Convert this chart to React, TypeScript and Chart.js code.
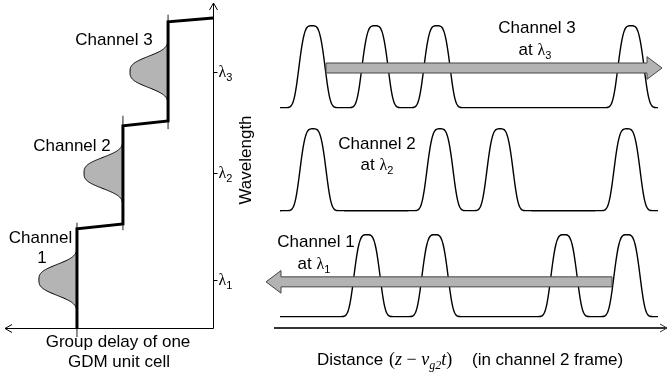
import React, { useEffect, useRef } from "react";
import { Chart, registerables } from "chart.js";

Chart.register(...registerables);

const SANS = '"Liberation Sans", Arial, sans-serif';
const SERIF = '"Liberation Serif", "Times New Roman", serif';

// ---------------- Left panel: group delay of one GDM unit cell vs wavelength ----------------
const stairDelay = [6.54, 6.54, 4.33, 4.33, 2.16, 2.16, 0.0];
const stairWavelength = [0.0, 3.05, 3.2, 6.22, 6.37, 9.42, 9.54];
const channelNumbers = ["1", "2", "3"];
const channelWavelength = [1.48, 4.77, 7.88];
const channelBaseDelay = [6.54, 4.33, 2.16];
const channelPeakDelay = [1.83, 1.87, 1.83];
const spectrumWidth = 0.55;
const spectrumOrder = 3;

// ---------------- Right panel: pulse trains vs distance ----------------
const rowBaseline = [0.35, 3.61, 6.78];
const rowPulseHeight = [2.52, 2.52, 2.52];
const row1Pulses = [23.25, 40.25, 72.5, 88.25];
const row2Pulses = [9.75, 41.5, 56.5, 88.25];
const row3Pulses = [9.5, 25.25, 40.75, 89.25];
const traceStart = 1.5;
const traceEnd = 96;
const pulseWidth = 3.6;
const pulseOrder = 3.6;
// drift arrows: channel 1 (backwards), channel 3 (forwards)
const arrowLevel = [1.42, 8.0];
const arrowTail = [84.5, 13.0];
const arrowTip = [-2, 97];

type Run = { text: string; font: string; dy?: number };

function runsWidth(ctx: CanvasRenderingContext2D, runs: Run[]) {
  let w = 0;
  for (const r of runs) {
    ctx.font = r.font;
    w += ctx.measureText(r.text).width;
  }
  return w;
}

function drawRuns(ctx: CanvasRenderingContext2D, runs: Run[], x: number, y: number, align: "left" | "center") {
  let cx = align === "center" ? x - runsWidth(ctx, runs) / 2 : x;
  ctx.textAlign = "left";
  ctx.textBaseline = "alphabetic";
  for (const r of runs) {
    ctx.font = r.font;
    ctx.fillText(r.text, cx, y + (r.dy || 0));
    cx += ctx.measureText(r.text).width;
  }
}

const F17 = `17px ${SANS}`;
const lambdaRuns = (n: string): Run[] => [
  { text: "λ", font: `16px ${SERIF}` },
  { text: n, font: `11px ${SANS}`, dy: 4 },
];

function spectrumPoints(i: number) {
  const c = channelWavelength[i];
  const pts: { x: number; y: number }[] = [];
  const span = spectrumWidth * 3.2;
  for (let k = -64; k <= 64; k++) {
    const w = c + (k / 64) * span;
    const u = Math.abs((w - c) / spectrumWidth);
    pts.push({ x: channelBaseDelay[i] + channelPeakDelay[i] * Math.exp(-Math.pow(u, spectrumOrder)), y: w });
  }
  return pts;
}

function pulseTrace(centers: number[], base: number, height: number) {
  const pts: { x: number; y: number }[] = [];
  for (let x = traceStart; x <= traceEnd + 1e-9; x += 0.25) {
    let s = 0;
    for (const c of centers) s += Math.exp(-Math.pow(Math.abs((x - c) / pulseWidth), pulseOrder));
    pts.push({ x, y: base + height * s });
  }
  return pts;
}

function drawGrayArrow(ctx: CanvasRenderingContext2D, xTail: number, xTip: number, y: number, half: number, headHalf: number, headLen: number) {
  const dir = Math.sign(xTip - xTail);
  const xb = xTip - dir * headLen;
  ctx.beginPath();
  ctx.moveTo(xTail, y - half);
  ctx.lineTo(xb, y - half);
  ctx.lineTo(xb, y - headHalf);
  ctx.lineTo(xTip, y);
  ctx.lineTo(xb, y + headHalf);
  ctx.lineTo(xb, y + half);
  ctx.lineTo(xTail, y + half);
  ctx.closePath();
  ctx.fillStyle = "#b3b3b3";
  ctx.fill();
  ctx.lineWidth = 1;
  ctx.strokeStyle = "#444";
  ctx.stroke();
}

const leftDecor = {
  id: "leftDecor",
  afterDraw(chart: any) {
    const ctx: CanvasRenderingContext2D = chart.ctx;
    const xs = chart.scales.x;
    const ys = chart.scales.y;
    const x0 = Math.round(xs.getPixelForValue(0)) + 0.5;
    const y0 = Math.round(ys.getPixelForValue(0)) + 0.5;
    const xEnd = xs.getPixelForValue(10);
    const yTop = ys.getPixelForValue(10);
    ctx.save();
    ctx.strokeStyle = "#000";
    ctx.lineWidth = 1;
    ctx.beginPath();
    ctx.moveTo(x0, y0);
    ctx.lineTo(x0, yTop);
    ctx.moveTo(x0, y0);
    ctx.lineTo(xEnd, y0);
    ctx.moveTo(x0 - 4, yTop + 7);
    ctx.lineTo(x0, yTop);
    ctx.lineTo(x0 + 4, yTop + 7);
    ctx.moveTo(xEnd + 7, y0 - 4);
    ctx.lineTo(xEnd, y0);
    ctx.lineTo(xEnd + 7, y0 + 4);
    for (const w of channelWavelength) {
      const py = Math.round(ys.getPixelForValue(w)) + 0.5;
      ctx.moveTo(x0, py);
      ctx.lineTo(x0 + 4, py);
    }
    ctx.stroke();

    ctx.fillStyle = "#000";
    channelWavelength.forEach((w, i) => {
      const py = ys.getPixelForValue(w);
      drawRuns(ctx, lambdaRuns(channelNumbers[i]), x0 + 5, py + 5, "left");
    });

    drawRuns(ctx, [{ text: "Channel 3", font: F17 }], 114, 45, "center");
    drawRuns(ctx, [{ text: "Channel 2", font: F17 }], 72, 151, "center");
    drawRuns(ctx, [{ text: "Channel", font: F17 }], 40.5, 243, "center");
    drawRuns(ctx, [{ text: "1", font: F17 }], 42, 263, "center");

    drawRuns(ctx, [{ text: "Group delay of one", font: F17 }], 118, 347, "center");
    drawRuns(ctx, [{ text: "GDM unit cell", font: F17 }], 119, 367, "center");

    ctx.translate(251, 160);
    ctx.rotate(-Math.PI / 2);
    drawRuns(ctx, [{ text: "Wavelength", font: F17 }], 0, 0, "center");
    ctx.restore();
  },
};

const rightDecor = {
  id: "rightDecor",
  afterDatasetsDraw(chart: any) {
    const ctx: CanvasRenderingContext2D = chart.ctx;
    const xs = chart.scales.x;
    const ys = chart.scales.y;
    ctx.save();
    arrowLevel.forEach((lv, i) => {
      drawGrayArrow(
        ctx,
        xs.getPixelForValue(arrowTail[i]),
        xs.getPixelForValue(arrowTip[i]),
        ys.getPixelForValue(lv),
        5,
        11.3,
        15
      );
    });
    ctx.restore();
  },
  afterDraw(chart: any) {
    const ctx: CanvasRenderingContext2D = chart.ctx;
    const xs = chart.scales.x;
    const ys = chart.scales.y;
    const y0 = ys.getPixelForValue(0);
    const xa = xs.getPixelForValue(0);
    const xb = xs.getPixelForValue(98.25);
    ctx.save();
    ctx.strokeStyle = "#333";
    ctx.lineWidth = 2;
    ctx.beginPath();
    ctx.moveTo(xa, y0);
    ctx.lineTo(xb, y0);
    ctx.stroke();
    ctx.lineWidth = 1;
    ctx.beginPath();
    ctx.moveTo(xb - 7, y0 - 4);
    ctx.lineTo(xb, y0);
    ctx.lineTo(xb - 7, y0 + 4);
    ctx.stroke();

    // The right canvas starts at page x = 240
    const ox = -240;
    ctx.fillStyle = "#000";
    drawRuns(ctx, [{ text: "Channel 3", font: F17 }], 537 + ox, 33, "center");
    drawRuns(ctx, [{ text: "at ", font: F17 }, ...lambdaRuns("3")], 535 + ox, 55, "center");
    drawRuns(ctx, [{ text: "Channel 2", font: F17 }], 377 + ox, 149, "center");
    drawRuns(ctx, [{ text: "at ", font: F17 }, ...lambdaRuns("2")], 377 + ox, 170, "center");
    drawRuns(ctx, [{ text: "Channel 1", font: F17 }], 316 + ox, 247, "center");
    drawRuns(ctx, [{ text: "at ", font: F17 }, ...lambdaRuns("1")], 314 + ox, 269, "center");

    const it = `italic 18px ${SERIF}`;
    const rm = `18px ${SERIF}`;
    drawRuns(ctx, [{ text: "Distance", font: F17 }], 317 + ox, 365, "left");
    drawRuns(
      ctx,
      [
        { text: "(", font: rm },
        { text: "z", font: it },
        { text: " − ", font: rm },
        { text: "v", font: it },
        { text: "g2", font: `italic 12px ${SERIF}`, dy: 4 },
        { text: "t", font: it },
        { text: ")", font: rm },
      ],
      389 + ox,
      365,
      "left"
    );
    drawRuns(ctx, [{ text: "(in channel 2 frame)", font: F17 }], 472 + ox, 365, "left");
    ctx.restore();
  },
};

export default function App() {
  const leftRef = useRef<HTMLCanvasElement | null>(null);
  const rightRef = useRef<HTMLCanvasElement | null>(null);

  useEffect(() => {
    document.body.style.margin = "0";
    const common = {
      animation: false as const,
      responsive: false,
      maintainAspectRatio: false,
      events: [] as any[],
      plugins: { legend: { display: false }, tooltip: { enabled: false } },
    };

    const left = new Chart(leftRef.current!, {
      type: "scatter",
      data: {
        datasets: [
          {
            data: stairDelay.map((d, i) => ({ x: d, y: stairWavelength[i] })),
            showLine: true,
            borderColor: "#000",
            borderWidth: 3,
            pointRadius: 0,
            borderJoinStyle: "miter",
            fill: false,
            order: 0,
            clip: false,
          } as any,
          ...channelWavelength.map(
            (_, i) =>
              ({
                data: spectrumPoints(i),
                showLine: true,
                borderColor: "#000",
                borderWidth: 1,
                backgroundColor: "#b4b4b4",
                pointRadius: 0,
                tension: 0.2,
                fill: "shape",
                order: 1,
                clip: false,
              }) as any
          ),
        ],
      },
      options: {
        ...common,
        layout: { padding: { left: 5, right: 47, top: 3, bottom: 44 } },
        scales: {
          x: { type: "linear", min: 0, max: 10, reverse: true, display: false },
          y: { type: "linear", min: 0, max: 10, display: false },
        },
      } as any,
      plugins: [leftDecor],
    });

    const rows = [row1Pulses, row2Pulses, row3Pulses];
    const right = new Chart(rightRef.current!, {
      type: "scatter",
      data: {
        datasets: rows.map(
          (centers, r) =>
            ({
              data: pulseTrace(centers, rowBaseline[r], rowPulseHeight[r]),
              showLine: true,
              borderColor: "#000",
              borderWidth: 1.4,
              pointRadius: 0,
              tension: 0.2,
              fill: false,
              clip: false,
            }) as any
        ),
      },
      options: {
        ...common,
        layout: { padding: { left: 22, right: 3, top: 3, bottom: 44 } },
        scales: {
          x: { type: "linear", min: -3, max: 98.25, display: false },
          y: { type: "linear", min: 0, max: 10, display: false },
        },
      } as any,
      plugins: [rightDecor],
    });

    return () => {
      left.destroy();
      right.destroy();
    };
  }, []);

  return (
    <div style={{ position: "fixed", left: 0, top: 0, width: 670, height: 372, background: "#fff", overflow: "hidden" }}>
      <canvas ref={leftRef} width={260} height={372} style={{ position: "absolute", left: 0, top: 0, width: 260, height: 372 }} />
      <canvas ref={rightRef} width={430} height={372} style={{ position: "absolute", left: 240, top: 0, width: 430, height: 372 }} />
    </div>
  );
}
